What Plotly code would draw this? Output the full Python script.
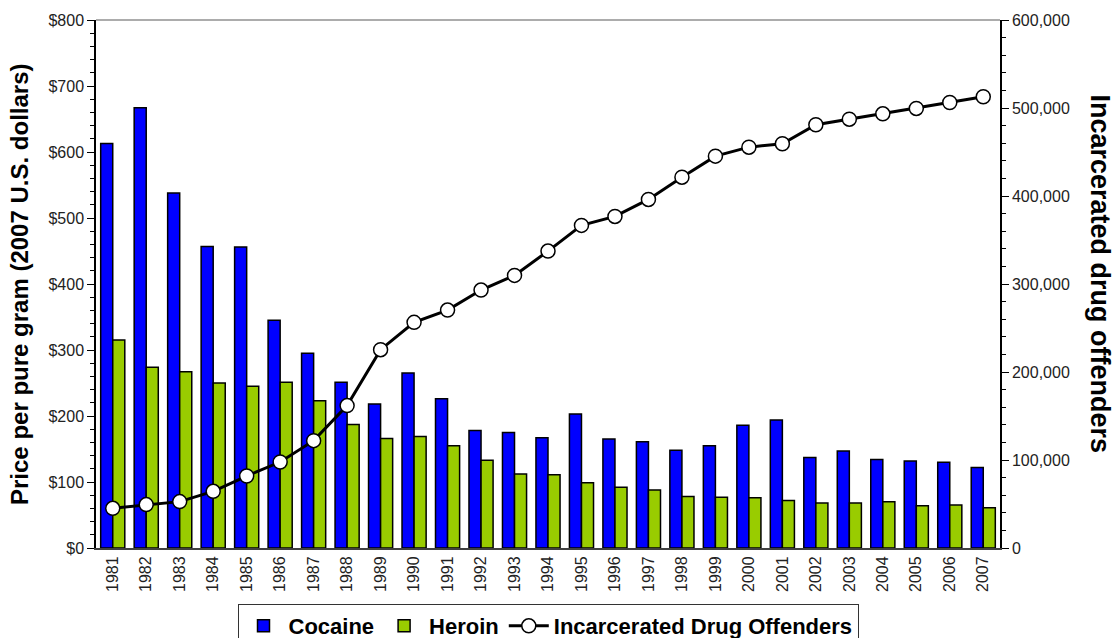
import plotly.graph_objects as go

years = [str(y) for y in range(1981, 2008)]
cocaine = [613, 667, 538, 457, 456, 345, 295, 251, 218, 265, 226, 178, 175, 167, 203,
           165, 161, 148, 155, 186, 194, 137, 147, 134, 132, 130, 122]
heroin = [315, 274, 267, 250, 245, 251, 223, 187, 166, 169, 155, 133, 112, 111, 99,
          92, 88, 78, 77, 76, 72, 68, 68, 70, 64, 65, 61]
offenders = [45100, 49300, 52700, 64400, 81800, 97700, 122000, 161800, 225400, 256400,
             270400, 293100, 309800, 337400, 366600, 376800, 396100, 421400, 445300,
             455500, 459400, 481000, 487300, 493400, 499500, 506300, 512800]

FONT = "Liberation Sans, Arial, sans-serif"

fig = go.Figure()
fig.add_trace(go.Bar(x=years, y=cocaine, name="Cocaine",
                     marker=dict(color="#0000FF", line=dict(color="black", width=1.5))))
fig.add_trace(go.Bar(x=years, y=heroin, name="Heroin",
                     marker=dict(color="#99CC00", line=dict(color="black", width=1.5))))
fig.add_trace(go.Scatter(x=years, y=offenders, name="Incarcerated Drug Offenders",
                         yaxis="y2", mode="lines+markers",
                         line=dict(color="black", width=3),
                         marker=dict(size=14, color="white", line=dict(color="black", width=1.5))))

fig.update_layout(
    width=1119, height=638,
    margin=dict(l=96, r=119, t=20, b=90, autoexpand=False),
    paper_bgcolor="white", plot_bgcolor="white",
    barmode="group", bargap=0.28, bargroupgap=0,
    font=dict(family=FONT, color="#222"),
    showlegend=True,
    legend=dict(orientation="h", x=0.50, xanchor="center", xref="paper",
                y=1 - 604 / 638, yanchor="top", yref="container",
                bordercolor="#333", borderwidth=1, bgcolor="white",
                font=dict(family=FONT, size=22, color="black", weight="bold"),
                itemwidth=40, tracegroupgap=0),
    xaxis=dict(type="category", range=[-0.5, 26.5], tickangle=-90, ticks="", showline=True,
               linecolor="#404040", linewidth=2, showgrid=False, automargin=False,
               tickfont=dict(size=16, color="#222")),
    yaxis=dict(range=[0, 800], dtick=100, tickprefix="$", ticks="outside", ticklen=7,
               tickcolor="black", showline=True, linecolor="black", linewidth=1.5,
               showgrid=False, zeroline=False, automargin=False,
               tickfont=dict(size=16, color="#222"),
               minor=dict(dtick=20, ticks="outside", ticklen=4, tickcolor="black", showgrid=False)),
    yaxis2=dict(range=[0, 600000], dtick=100000, tickformat=",", overlaying="y", side="right",
                ticks="outside", ticklen=7, tickcolor="black", showline=True,
                linecolor="black", linewidth=1.5, showgrid=False, zeroline=False,
                automargin=False, tickfont=dict(size=16, color="#222"),
                minor=dict(dtick=20000, ticks="outside", ticklen=4, tickcolor="black", showgrid=False)),
    shapes=[dict(type="line", xref="paper", yref="paper", x0=0, x1=1, y0=1, y1=1,
                 line=dict(color="#909090", width=1.5))],
    annotations=[
        dict(text="<b>Price per pure gram (2007 U.S. dollars)</b>", xref="paper", yref="paper",
             x=(19 - 96) / 904, y=0.5, xanchor="center", yanchor="middle",
             textangle=-90, showarrow=False,
             font=dict(family=FONT, size=24, color="black")),
        dict(text="<b>Incarcerated drug offenders</b>", xref="paper", yref="paper",
             x=(1100 - 96) / 904, y=0.52, xanchor="center", yanchor="middle",
             textangle=90, showarrow=False,
             font=dict(family=FONT, size=27, color="black")),
    ],
)

fig.write_html("out.html", config={"displayModeBar": False},
               post_script="document.body.style.margin='0';document.body.style.overflow='hidden';")
